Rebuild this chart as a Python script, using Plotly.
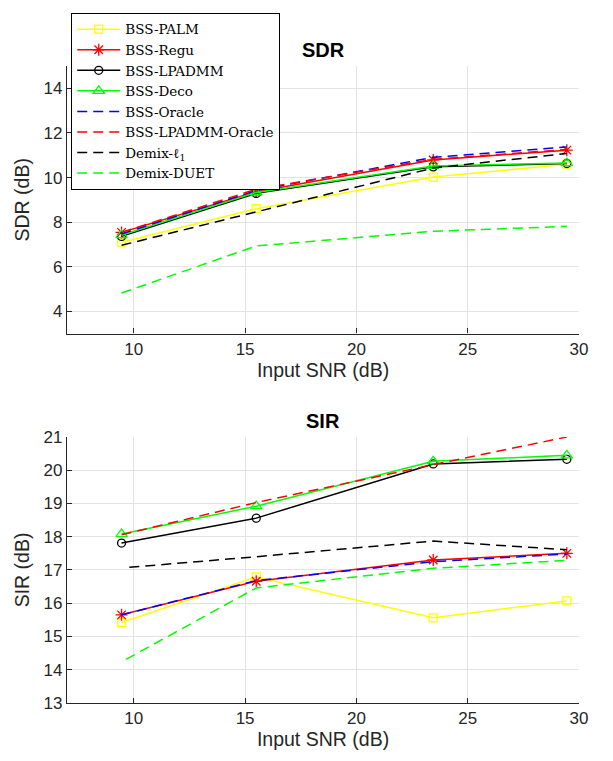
import plotly.graph_objects as go

# ---------------- data ----------------
snr = [9.45, 15.5, 23.45, 29.45]
# the two dashed Demix curves of the SIR panel start slightly to the right
snr_sir_demix_l1 = [9.8, 15.5, 23.45, 29.45]
snr_sir_duet = [9.65, 15.5, 23.45, 29.45]

series_names = ["BSS-PALM", "BSS-Regu", "BSS-LPADMM", "BSS-Deco",
                "BSS-Oracle", "BSS-LPADMM-Oracle", "Demix-ℓ<sub>1</sub>", "Demix-DUET"]

sdr_palm = [7.10, 8.60, 10.02, 10.60]
sdr_regu = [7.54, 9.36, 10.79, 11.23]
sdr_lpadmm = [7.36, 9.29, 10.48, 10.63]
sdr_deco = [7.42, 9.33, 10.52, 10.65]
sdr_oracle = [7.47, 9.42, 10.91, 11.37]
sdr_lpadmm_oracle = [7.54, 9.48, 10.82, 11.26]
sdr_demix_l1 = [6.96, 8.45, 10.43, 11.08]
sdr_duet = [4.82, 6.93, 7.59, 7.81]

sir_palm = [15.42, 16.79, 15.56, 16.07]
sir_regu = [15.65, 16.66, 17.30, 17.50]
sir_lpadmm = [17.81, 18.56, 20.19, 20.33]
sir_deco = [18.08, 18.92, 20.27, 20.45]
sir_oracle = [15.65, 16.68, 17.25, 17.48]
sir_lpadmm_oracle = [18.06, 19.03, 20.17, 21.00]
sir_demix_l1 = [17.08, 17.40, 17.87, 17.61]
sir_duet = [14.31, 16.46, 17.05, 17.29]

x_ticks = [10, 15, 20, 25, 30]
sdr_ticks = [4, 6, 8, 10, 12, 14]
sir_ticks = [13, 14, 15, 16, 17, 18, 19, 20, 21]

# ---------------- styles ----------------
DASH = "10px,6px"
styles = [
    dict(color="#ffff00", dash="solid", symbol="square-open", size=8),
    dict(color="#ff0000", dash="solid", symbol="asterisk-open", size=10),
    dict(color="#000000", dash="solid", symbol="circle-open", size=8),
    dict(color="#00ff00", dash="solid", symbol="triangle-up-open", size=10),
    dict(color="#0000ff", dash=DASH, symbol=None, size=0),
    dict(color="#ff0000", dash=DASH, symbol=None, size=0),
    dict(color="#000000", dash=DASH, symbol=None, size=0),
    dict(color="#00ff00", dash=DASH, symbol=None, size=0),
]

sdr_all = [sdr_palm, sdr_regu, sdr_lpadmm, sdr_deco, sdr_oracle,
           sdr_lpadmm_oracle, sdr_demix_l1, sdr_duet]
sir_all = [sir_palm, sir_regu, sir_lpadmm, sir_deco, sir_oracle,
           sir_lpadmm_oracle, sir_demix_l1, sir_duet]
sdr_x = [snr] * 8
sir_x = [snr] * 6 + [snr_sir_demix_l1, snr_sir_duet]

fig = go.Figure()

for panel, (data, xs, xa, ya) in enumerate([(sdr_all, sdr_x, "x", "y"),
                                             (sir_all, sir_x, "x2", "y2")]):
    for name, xv, vals, st in zip(series_names, xs, data, styles):
        mode = "lines+markers" if st["symbol"] else "lines"
        tr = dict(
            x=xv, y=vals, name=name, mode=mode,
            xaxis=xa, yaxis=ya,
            line=dict(color=st["color"], width=1.5, dash=st["dash"]),
            showlegend=(panel == 0),
            legendgroup=name,
        )
        if st["symbol"]:
            tr["marker"] = dict(symbol=st["symbol"], size=st["size"],
                                color=st["color"],
                                line=dict(color=st["color"], width=1.3))
        fig.add_trace(go.Scatter(**tr))

W, H = 613, 761
x0, x1 = 68 / W, 587.7 / W
sdr_dom = [1 - 332.85 / H, 1 - 58.6 / H]
sir_dom = [1 - 711.7 / H, 1 - 439 / H]

axis_font = dict(family="Liberation Sans, Arial, sans-serif", size=17, color="#262626")
title_font = dict(family="Liberation Sans, Arial, sans-serif", size=19.5, color="#262626")

common_x = dict(
    range=[7, 30], tickvals=x_ticks, showgrid=True, gridcolor="#e3e3e3", gridwidth=1,
    showline=True, linecolor="#262626", linewidth=1.2, mirror=False,
    ticks="inside", ticklen=5, tickwidth=1.2, tickcolor="#262626",
    tickfont=axis_font, zeroline=False,
    title=dict(text="Input SNR (dB)", font=title_font, standoff=4),
)
common_y = dict(
    showgrid=True, gridcolor="#e3e3e3", gridwidth=1,
    showline=True, linecolor="#262626", linewidth=1.2, mirror=False,
    ticks="inside", ticklen=5, tickwidth=1.2, tickcolor="#262626",
    tickfont=axis_font, zeroline=False,
)

fig.update_layout(
    width=W, height=H, autosize=False,
    margin=dict(l=0, r=0, t=0, b=0),
    paper_bgcolor="white", plot_bgcolor="white",
    xaxis=dict(domain=[x0, x1], anchor="y", **common_x),
    yaxis=dict(domain=sdr_dom, anchor="x", range=[3, 15], tickvals=sdr_ticks,
               title=dict(text="SDR (dB)", font=title_font, standoff=8), **common_y),
    xaxis2=dict(domain=[x0, x1], anchor="y2", **common_x),
    yaxis2=dict(domain=sir_dom, anchor="x2", range=[13, 21], tickvals=sir_ticks,
                title=dict(text="SIR (dB)", font=title_font, standoff=8), **common_y),
    legend=dict(
        x=72.3 / W, y=1 - 4 / H, xanchor="left", yanchor="top",
        bgcolor="white", bordercolor="#000000", borderwidth=1,
        font=dict(family="DejaVu Serif", size=13.5, color="#000000"),
        itemwidth=43, tracegroupgap=0,
    ),
    annotations=[
        dict(text="<b>SDR</b>", x=(x0 + x1) / 2, y=1 - 42.3 / H, xref="paper", yref="paper",
             showarrow=False, xanchor="center", yanchor="middle",
             font=dict(family="Liberation Sans, Arial, sans-serif", size=20, color="#000000")),
        dict(text="<b>SIR</b>", x=(x0 + x1) / 2, y=1 - 423 / H, xref="paper", yref="paper",
             showarrow=False, xanchor="center", yanchor="middle",
             font=dict(family="Liberation Sans, Arial, sans-serif", size=20, color="#000000")),
    ],
)

pin_script = (
    "document.documentElement.style.margin='0';"
    "document.body.style.margin='0';"
    "var gd=document.getElementById('{plot_id}');"
    "gd.style.position='fixed';gd.style.top='0px';gd.style.left='0px';"
)

fig.write_html("out.html",
               config={"displayModeBar": False, "responsive": False},
               post_script=pin_script)
